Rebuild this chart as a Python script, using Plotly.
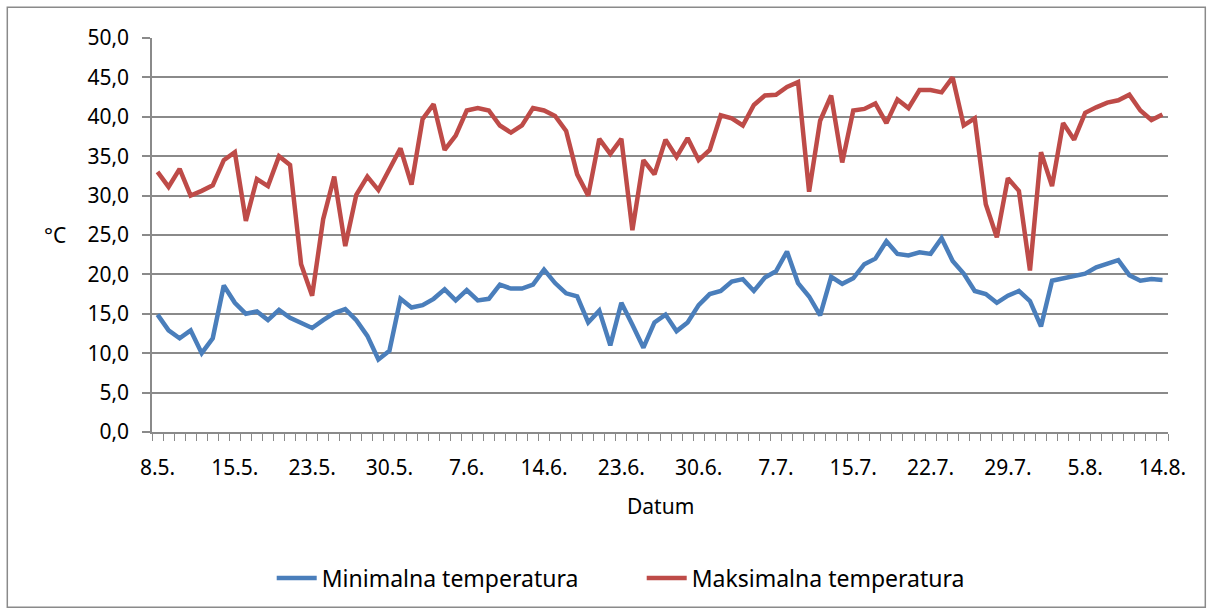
import plotly.graph_objects as go

tick_labels = ["8.5.", "15.5.", "23.5.", "30.5.", "7.6.", "14.6.", "23.6.", "30.6.",
               "7.7.", "15.7.", "22.7.", "29.7.", "5.8.", "14.8."]

max_temp = [33.0, 31.1, 33.4, 30.0, 30.6, 31.3, 34.5, 35.5, 26.8, 32.1,
            31.2, 35.0, 33.9, 21.3, 17.3, 27.0, 32.4, 23.6, 30.1, 32.4,
            30.7, 33.5, 36.0, 31.4, 39.7, 41.6, 35.8, 37.6, 40.8, 41.1,
            40.8, 38.9, 38.0, 38.9, 41.1, 40.8, 40.1, 38.2, 32.7, 30.0,
            37.2, 35.3, 37.2, 25.6, 34.5, 32.7, 37.1, 34.9, 37.3, 34.5,
            35.8, 40.2, 39.8, 38.9, 41.5, 42.7, 42.8, 43.8, 44.4, 30.5,
            39.5, 42.7, 34.2, 40.8, 41.0, 41.7, 39.2, 42.2, 41.1, 43.4,
            43.4, 43.1, 45.0, 38.9, 39.8, 28.9, 24.7, 32.2, 30.6, 20.5,
            35.5, 31.2, 39.2, 37.1, 40.5, 41.2, 41.8, 42.1, 42.8, 40.8,
            39.6, 40.3]

min_temp = [14.9, 12.9, 11.9, 12.9, 10.0, 11.9, 18.6, 16.4, 15.0, 15.3,
            14.2, 15.5, 14.5, 13.8, 13.2, 14.2, 15.1, 15.6, 14.2, 12.2,
            9.2, 10.3, 16.9, 15.8, 16.1, 16.9, 18.1, 16.7, 18.0, 16.7,
            16.9, 18.7, 18.2, 18.2, 18.7, 20.6, 18.9, 17.6, 17.2, 13.9,
            15.4, 11.0, 16.4, 13.6, 10.7, 13.9, 14.9, 12.8, 13.9, 16.1,
            17.5, 17.9, 19.1, 19.4, 17.9, 19.6, 20.4, 22.9, 18.9, 17.2,
            14.8, 19.7, 18.8, 19.5, 21.3, 22.0, 24.2, 22.6, 22.4, 22.8,
            22.6, 24.6, 21.7, 20.1, 17.9, 17.5, 16.4, 17.3, 17.9, 16.6,
            13.4, 19.2, 19.5, 19.8, 20.1, 20.9, 21.3, 21.8, 19.9, 19.2,
            19.4, 19.3]

n = len(min_temp)
x = list(range(n))
label_pos = [i * 7 for i in range(len(tick_labels))]

FONT = "Noto Sans"
FS = 21
GRID = "#8a8a8a"

fig = go.Figure()
fig.add_trace(go.Scatter(x=x, y=min_temp, mode="lines", name="Minimalna temperatura",
                         line=dict(color="#4a7ebb", width=4.5)))
fig.add_trace(go.Scatter(x=x, y=max_temp, mode="lines", name="Maksimalna temperatura",
                         line=dict(color="#be4b48", width=4.5)))

fig.update_layout(
    width=1213, height=614,
    margin=dict(l=152, r=45, t=38, b=182),
    paper_bgcolor="white", plot_bgcolor="white",
    separators=", ",
    font=dict(family=FONT, size=FS, color="#000000"),
    showlegend=True,
    legend=dict(orientation="h", x=0.482, xanchor="center", y=-0.371, yanchor="middle",
                font=dict(family=FONT, size=23), itemwidth=40,
                entrywidth=315, entrywidthmode="pixels",
                bgcolor="rgba(0,0,0,0)"),
    xaxis=dict(
        range=[-0.5, n - 0.5], tickmode="array", tickvals=label_pos, ticktext=tick_labels,
        ticks="outside", ticklen=16, tickcolor="rgba(0,0,0,0)",
        showgrid=False, zeroline=False,
        showline=True, linecolor=GRID, linewidth=1.5,
        minor=dict(tickmode="array", tickvals=[i - 0.5 for i in range(n + 1)],
                   ticks="outside", ticklen=7, tickcolor=GRID, tickwidth=1.3,
                   showgrid=False),
        tickfont=dict(family=FONT, size=FS),
    ),
    yaxis=dict(
        range=[0, 50], tick0=0, dtick=5, tickformat=".1f",
        ticks="outside", ticklen=8, tickcolor=GRID, tickwidth=1.5,
        ticklabelstandoff=9,
        showgrid=True, gridcolor=GRID, gridwidth=1.5,
        zeroline=False, showline=True, linecolor=GRID, linewidth=1.5,
        tickfont=dict(family=FONT, size=FS),
    ),
    annotations=[
        dict(text="°C", xref="paper", yref="paper", x=(55 - 151.7) / 1016, y=(431.7 - 235) / 394,
             showarrow=False, xanchor="center", yanchor="middle", font=dict(family=FONT, size=FS)),
        dict(text="Datum", xref="paper", yref="paper", x=0.5, y=(431.7 - 506) / 394,
             showarrow=False, xanchor="center", yanchor="middle", font=dict(family=FONT, size=FS)),
    ],
    shapes=[
        dict(type="rect", xref="paper", yref="paper",
             x0=(7 - 151.7) / 1016, x1=(1205 - 151.7) / 1016,
             y0=(431.7 - 607) / 394, y1=(431.7 - 7) / 394,
             line=dict(color="#8a8a8a", width=1.5), fillcolor="rgba(0,0,0,0)", layer="below"),
    ],
)

fig.write_html("out.html", config={"displayModeBar": False},
               post_script="document.body.style.margin='0';")
